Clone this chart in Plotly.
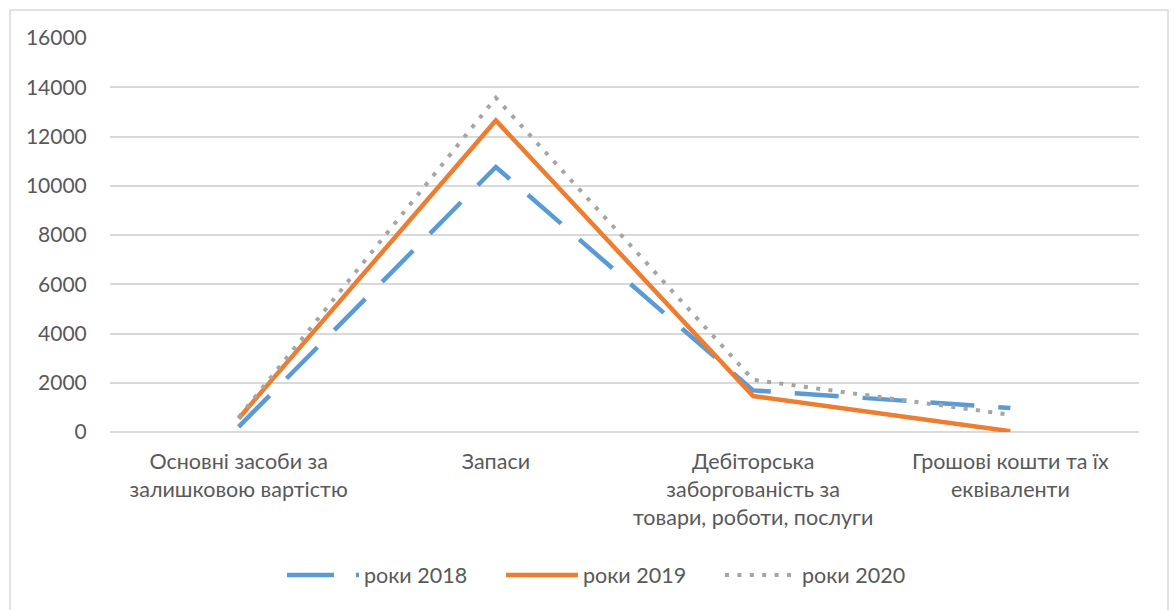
import plotly.graph_objects as go

categories = [
    "Основні засоби за<br>залишковою вартістю",
    "Запаси",
    "Дебіторська<br>заборгованість за<br>товари, роботи, послуги",
    "Грошові кошти та їх<br>еквіваленти",
]
y_2018 = [210, 10760, 1690, 975]
y_2019 = [550, 12650, 1460, 30]
y_2020 = [590, 13570, 2120, 700]
y_ticks = [0, 2000, 4000, 6000, 8000, 10000, 12000, 14000, 16000]
series_names = ["роки 2018", "роки 2019", "роки 2020"]

FONT = "Lato"
TEXT_COLOR = "#595959"
GRID = "#d9d9d9"
COLORS = ["#5b9bd5", "#ed7d31", "#a5a5a5"]
LINES = [
    dict(color=COLORS[0], width=4.5, dash="44px,24px"),
    dict(color=COLORS[1], width=4.5),
    dict(color=COLORS[2], width=4, dash="4px,8.4px"),
]
# legend samples look a bit different from the plotted lines (dash + dot)
LEGEND_LINES = [
    dict(color=COLORS[0], width=4.5, dash="47px,22px,4px,30px"),
    dict(color=COLORS[1], width=4.5),
    dict(color=COLORS[2], width=4, dash="4px,8.4px"),
]

# plot area in pixels: x 110..1139, y 38..432
L, R, T, B = 110, 35, 38, 178
W, H = 1174, 610
pw, ph = W - L - R, H - T - B


def px_x(x):
    return (x - L) / pw


def px_y(y):
    return (H - B - y) / ph


fig = go.Figure()

for values, line in zip([y_2018, y_2019, y_2020], LINES):
    fig.add_trace(
        go.Scatter(x=categories, y=values, mode="lines", line=line, showlegend=False)
    )

# legend-only entries
for name, line in zip(series_names, LEGEND_LINES):
    fig.add_trace(
        go.Scatter(x=[None], y=[None], mode="lines", name=name, line=line)
    )

fig.update_layout(
    width=W,
    height=H,
    margin=dict(l=L, r=R, t=T, b=B),
    paper_bgcolor="white",
    plot_bgcolor="white",
    font=dict(family=FONT, size=21.5, color=TEXT_COLOR),
    showlegend=True,
    legend=dict(
        orientation="h",
        x=px_x(282),
        xanchor="left",
        y=px_y(575),
        yanchor="middle",
        itemwidth=72,
        entrywidth=132,
        font=dict(family=FONT, size=21.5, color=TEXT_COLOR),
    ),
    shapes=[
        dict(
            type="rect",
            xref="paper",
            yref="paper",
            x0=px_x(10),
            x1=px_x(1168),
            y0=px_y(640),
            y1=px_y(10),
            line=dict(color=GRID, width=1.5),
            layer="below",
        )
    ],
)

fig.update_xaxes(
    type="category",
    range=[-0.5, 3.5],
    automargin=False,
    showgrid=False,
    showline=False,
    ticks="outside",
    ticklen=10,
    tickcolor="rgba(0,0,0,0)",
    tickfont=dict(family=FONT, size=21.5, color=TEXT_COLOR),
)
fig.update_yaxes(
    range=[0, 16000],
    tickvals=y_ticks,
    tickformat="d",
    automargin=False,
    showgrid=True,
    gridcolor=GRID,
    gridwidth=1.5,
    zeroline=True,
    zerolinecolor=GRID,
    zerolinewidth=1.5,
    showline=False,
    ticks="outside",
    ticklen=18,
    tickcolor="rgba(0,0,0,0)",
    tickfont=dict(family=FONT, size=21, color=TEXT_COLOR),
)

fig.write_html(
    "out.html",
    config={"displayModeBar": False},
    post_script="document.body.style.margin = '0';",
)
